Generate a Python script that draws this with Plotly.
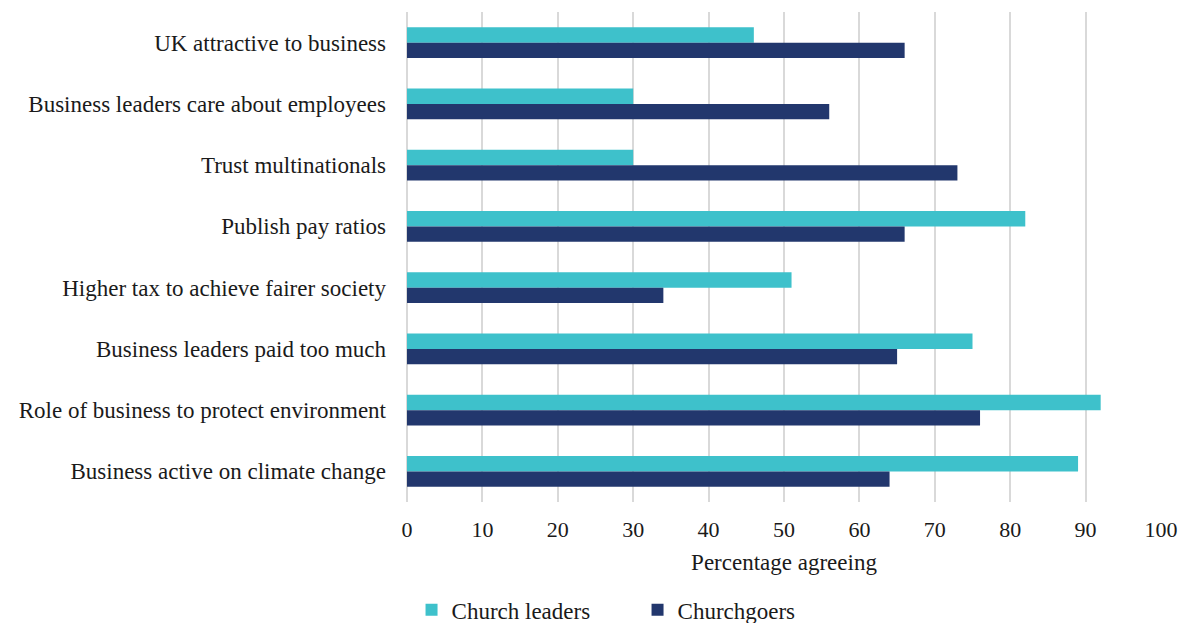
import plotly.graph_objects as go

categories = [
    "UK attractive to business",
    "Business leaders care about employees",
    "Trust multinationals",
    "Publish pay ratios",
    "Higher tax to achieve fairer society",
    "Business leaders paid too much",
    "Role of business to protect environment",
    "Business active on climate change",
]
church_leaders = [46, 30, 30, 82, 51, 75, 92, 89]
churchgoers = [66, 56, 73, 66, 34, 65, 76, 64]
x_ticks = [0, 10, 20, 30, 40, 50, 60, 70, 80, 90, 100]

FONT = "Liberation Serif"
TEXT = "#1a1a1a"

fig = go.Figure()
fig.add_trace(go.Bar(
    y=categories, x=church_leaders, orientation="h", name="Church leaders",
    marker=dict(color="#3EC1CB", line=dict(width=0)),
))
fig.add_trace(go.Bar(
    y=categories, x=churchgoers, orientation="h", name="Churchgoers",
    marker=dict(color="#22376D", line=dict(width=0)),
))

fig.update_layout(
    width=1186, height=623,
    margin=dict(l=407, r=25, t=12, b=121, autoexpand=False),
    barmode="group", bargap=0.5, bargroupgap=0,
    plot_bgcolor="white", paper_bgcolor="white",
    font=dict(family=FONT, size=23, color=TEXT),
    showlegend=True,
    legend=dict(
        orientation="h", xref="container", yref="paper",
        x=0.347, xanchor="left", y=-0.22, yanchor="middle",
        font=dict(family=FONT, size=23, color=TEXT),
        itemwidth=30, entrywidth=181, entrywidthmode="pixels",
    ),
)
fig.update_xaxes(
    range=[0, 100], tickvals=x_ticks, showgrid=True,
    gridcolor="#D9D9D9", gridwidth=2, zeroline=True, zerolinecolor="#D9D9D9",
    zerolinewidth=2, showline=False, ticks="",
    ticklabelstandoff=12,
    tickfont=dict(family=FONT, size=22, color=TEXT),
    title=dict(text="Percentage agreeing", font=dict(family=FONT, size=23, color=TEXT), standoff=12),
)
fig.update_yaxes(
    autorange="reversed", showgrid=False, showline=False, ticks="",
    ticklabelstandoff=20,
    tickfont=dict(family=FONT, size=23, color=TEXT),
)

fig.write_html("out.html")
